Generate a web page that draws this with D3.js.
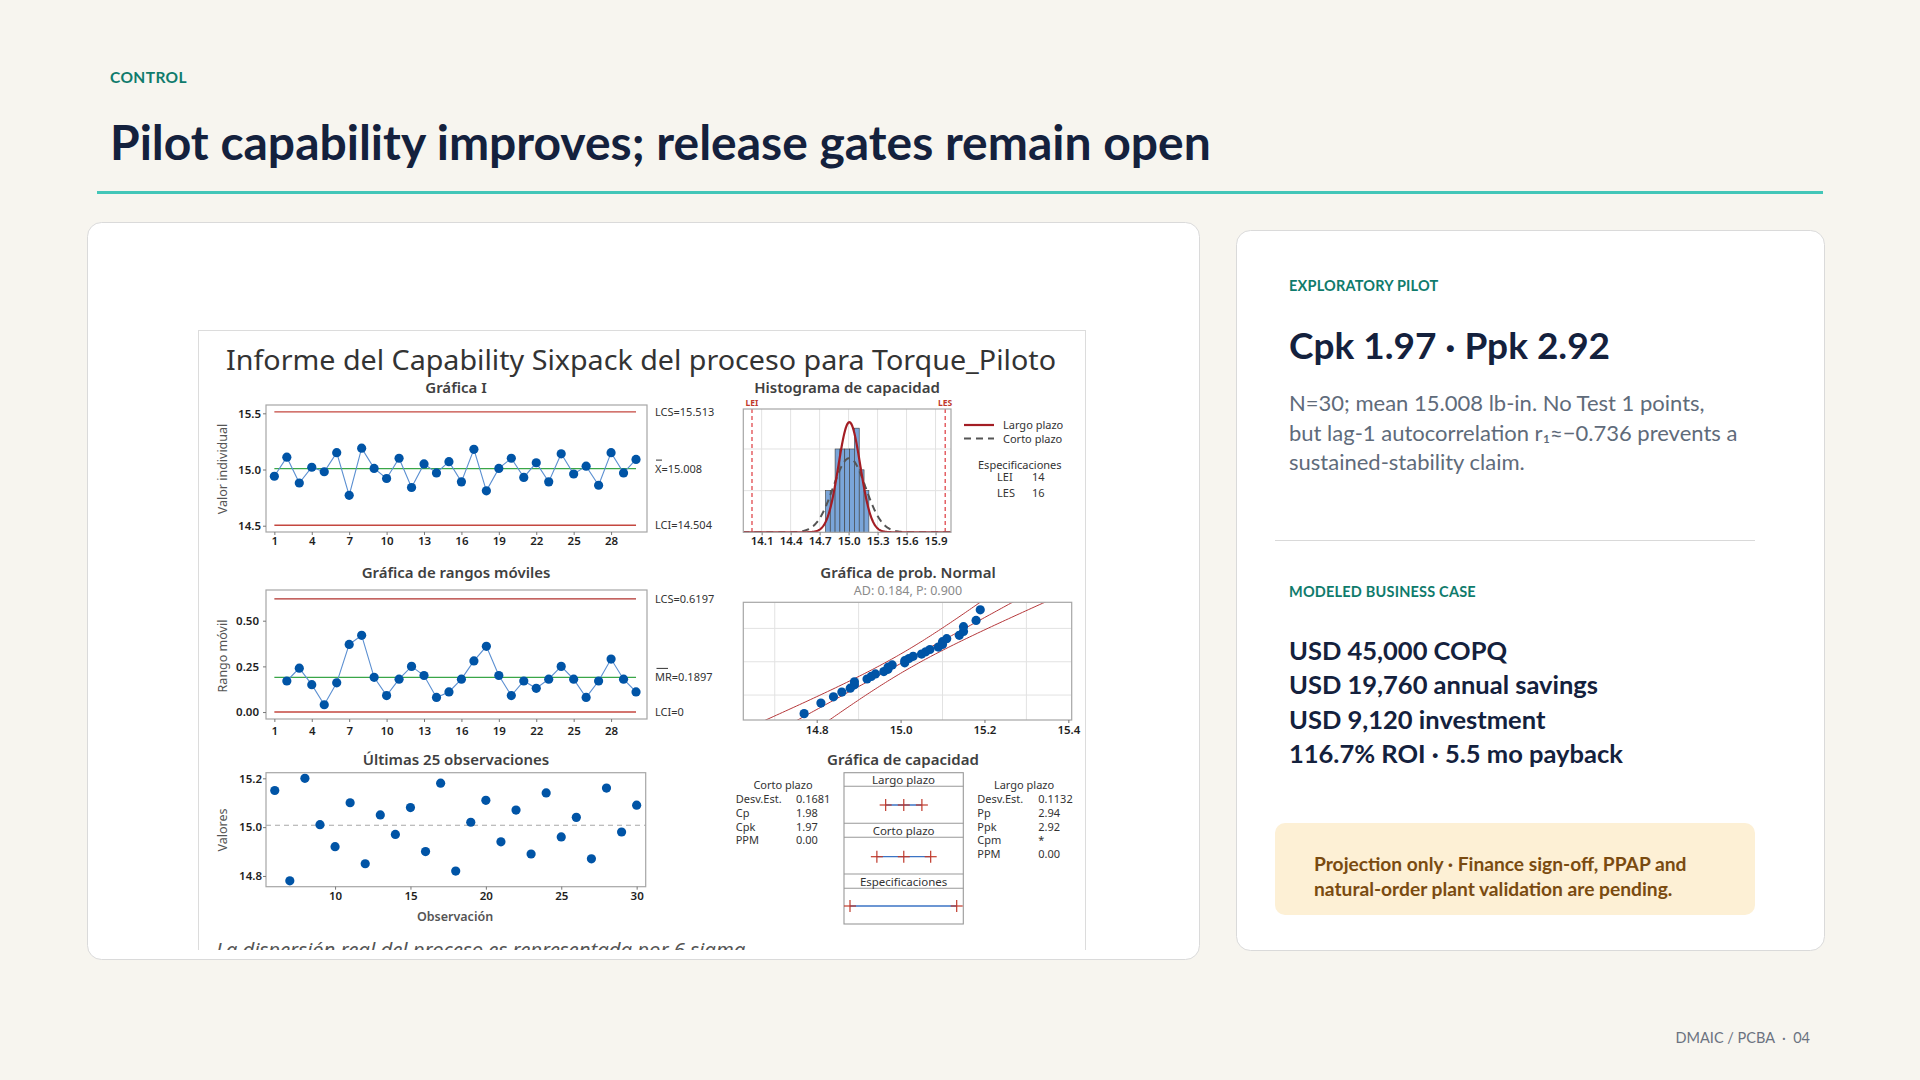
<!DOCTYPE html>
<html>
<head>
<meta charset="utf-8">
<title>Pilot capability</title>
<script src="https://cdn.jsdelivr.net/npm/d3@7"></script>
<style>
  html, body { margin: 0; padding: 0; background: #f7f5ef; }
  svg { display: block; }
</style>
</head>
<body>
<svg id="slide" width="1920" height="1080"></svg>
<script>
// ---- data ----
const obsNumbers = [1,2,3,4,5,6,7,8,9,10,11,12,13,14,15,16,17,18,19,20,21,22,23,24,25,26,27,28,29,30];
const torqueValues = [14.94, 15.11, 14.88, 15.02, 14.98, 15.15, 14.77, 15.19, 15.01, 14.92,
                      15.10, 14.84, 15.05, 14.97, 15.07, 14.89, 15.18, 14.81, 15.01, 15.10,
                      14.93, 15.06, 14.89, 15.14, 14.96, 15.03, 14.86, 15.15, 14.97, 15.09];
const movingRanges = [null, 0.17, 0.24, 0.15, 0.04, 0.16, 0.37, 0.42, 0.19, 0.09,
                      0.18, 0.25, 0.20, 0.08, 0.11, 0.18, 0.28, 0.36, 0.20, 0.09,
                      0.17, 0.13, 0.18, 0.25, 0.18, 0.08, 0.17, 0.29, 0.18, 0.11];
const lastObsNumbers = [6,7,8,9,10,11,12,13,14,15,16,17,18,19,20,21,22,23,24,25,26,27,28,29,30];
const lastObsValues = [15.15, 14.78, 15.20, 15.01, 14.92, 15.10, 14.85, 15.05, 14.97, 15.08,
                       14.90, 15.18, 14.82, 15.02, 15.11, 14.94, 15.07, 14.89, 15.14, 14.96,
                       15.04, 14.87, 15.16, 14.98, 15.09];
const histBinStarts = [14.76, 14.81, 14.86, 14.91, 14.96, 15.01, 15.06, 15.11, 15.16];
const histBinWidth = 0.05;
const histCounts = [2, 2, 4, 4, 4, 4, 5, 3, 2];

const iLimits = [15.513, 15.008, 14.504];      // LCS, X-bar, LCI
const mrLimits = [0.6197, 0.1897, 0];          // LCS, MR-bar, LCI
const specLimits = [14, 16];                   // LEI, LES
const processMean = 15.008;
const sdShort = 0.1681;
const sdLong = 0.1132;

const iTicksX = [1, 4, 7, 10, 13, 16, 19, 22, 25, 28];
const iTicksY = [14.5, 15.0, 15.5];
const mrTicksY = [0, 0.25, 0.5];
const histTicksX = [14.1, 14.4, 14.7, 15.0, 15.3, 15.6, 15.9];
const histGridY = [2, 4];
const probTicksX = [14.8, 15.0, 15.2, 15.4];
const probGridX = [14.7, 14.9, 15.1, 15.3];
const probGridZ = [-1.2816, 0, 1.2816];
const lastTicksX = [10, 15, 20, 25, 30];
const lastTicksY = [14.8, 15.0, 15.2];

const shortTermStats = [["Desv.Est.", "0.1681"], ["Cp", "1.98"], ["Cpk", "1.97"], ["PPM", "0.00"]];
const longTermStats = [["Desv.Est.", "0.1132"], ["Pp", "2.94"], ["Ppk", "2.92"], ["Cpm", "*"], ["PPM", "0.00"]];

const pilotNotes = ["N=30; mean 15.008 lb-in. No Test 1 points,",
                    "but lag-1 autocorrelation r\u2081\u2248\u22120.736 prevents a",
                    "sustained-stability claim."];
const businessLines = ["USD 45,000 COPQ", "USD 19,760 annual savings",
                       "USD 9,120 investment", "116.7% ROI \u00b7 5.5 mo payback"];
const calloutLines = ["Projection only \u00b7 Finance sign-off, PPAP and",
                      "natural-order plant validation are pending."];

// ---- colours ----
const TEAL = "#0f7b6c", NAVY = "#14213d";
const MT_BLUE = "#0054a6", MT_LINE = "#5b8fd1", MT_RED = "#c4473f", MT_GREEN = "#3aa648";
const MT_TEXT = "#333333", MT_FRAME = "#a6a6a6", MT_GRID = "#e2e2e2";
const CHART_FONT = "'Noto Sans', 'Open Sans', sans-serif";
const SLIDE_FONT = "Lato, 'Noto Sans', sans-serif";

const svg = d3.select("#slide");

// ---- slide frame ----
svg.append("text").attr("x", 110).attr("y", 83).text("CONTROL")
  .attr("font-family", SLIDE_FONT).attr("font-weight", 700).attr("font-size", 15.5)
  .attr("letter-spacing", 0.4).attr("fill", TEAL);
svg.append("text").attr("x", 110).attr("y", 160).text("Pilot capability improves; release gates remain open")
  .attr("font-family", SLIDE_FONT).attr("font-weight", 700).attr("font-size", 48).attr("fill", NAVY);
svg.append("line").attr("x1", 97).attr("x2", 1823).attr("y1", 192.5).attr("y2", 192.5)
  .attr("stroke", "#43c6b8").attr("stroke-width", 3);

svg.append("rect").attr("x", 87.5).attr("y", 222.5).attr("width", 1112).attr("height", 737).attr("rx", 14)
  .attr("fill", "#ffffff").attr("stroke", "#dadada");
svg.append("rect").attr("x", 1236.5).attr("y", 230.5).attr("width", 588).attr("height", 720).attr("rx", 14)
  .attr("fill", "#ffffff").attr("stroke", "#dadada");

svg.append("text").attr("x", 1810).attr("y", 1043).attr("text-anchor", "end").text("DMAIC / PCBA  \u00b7  04")
  .attr("font-family", SLIDE_FONT).attr("font-size", 14.5).attr("fill", "#6b7280").style("white-space", "pre");

// ---- right card ----
const side = svg.append("g").attr("font-family", SLIDE_FONT);
side.append("text").attr("x", 1289).attr("y", 291).text("EXPLORATORY PILOT")
  .attr("font-weight", 700).attr("font-size", 14.5).attr("letter-spacing", 0.2).attr("fill", TEAL);
side.append("text").attr("x", 1289).attr("y", 359).text("Cpk 1.97 \u00b7 Ppk 2.92")
  .attr("font-weight", 700).attr("font-size", 37).attr("fill", NAVY);
side.selectAll("text.note").data(pilotNotes).enter().append("text").attr("class", "note")
  .attr("x", 1289).attr("y", (d, i) => 411 + i * 29.5).text(d => d)
  .attr("font-size", 22).attr("fill", "#5f6b7a");
side.append("line").attr("x1", 1275).attr("x2", 1755).attr("y1", 540.5).attr("y2", 540.5)
  .attr("stroke", "#d9d9d9").attr("stroke-width", 1.2);
side.append("text").attr("x", 1289).attr("y", 597).text("MODELED BUSINESS CASE")
  .attr("font-weight", 700).attr("font-size", 14.5).attr("letter-spacing", 0.2).attr("fill", TEAL);
side.selectAll("text.biz").data(businessLines).enter().append("text").attr("class", "biz")
  .attr("x", 1289).attr("y", (d, i) => 660 + i * 34.3).text(d => d)
  .attr("font-weight", 700).attr("font-size", 25.5).attr("fill", NAVY);
side.append("rect").attr("x", 1275).attr("y", 823).attr("width", 480).attr("height", 92).attr("rx", 10)
  .attr("fill", "#fdf0d5");
side.selectAll("text.call").data(calloutLines).enter().append("text").attr("class", "call")
  .attr("x", 1314).attr("y", (d, i) => 871 + i * 25).text(d => d)
  .attr("font-weight", 700).attr("font-size", 19.2).attr("fill", "#7a4b10");

// ---- Minitab sixpack image ----
svg.append("defs").append("clipPath").attr("id", "imgClip")
  .append("rect").attr("x", 198).attr("y", 330).attr("width", 888).attr("height", 620);
const rep = svg.append("g").attr("clip-path", "url(#imgClip)").attr("font-family", CHART_FONT);
rep.append("rect").attr("x", 198.5).attr("y", 330.5).attr("width", 887).attr("height", 660)
  .attr("fill", "#ffffff").attr("stroke", "#dcdcdc");

rep.append("text").attr("x", 641).attr("y", 370).attr("text-anchor", "middle")
  .text("Informe del Capability Sixpack del proceso para Torque_Piloto")
  .attr("font-size", 27.5).attr("fill", "#333").attr("textLength", 830).attr("lengthAdjust", "spacingAndGlyphs");

function title(t, x, y, size) {
  rep.append("text").attr("x", x).attr("y", y).attr("text-anchor", "middle").text(t)
    .attr("font-size", size || 15).attr("font-weight", 600).attr("fill", "#404040");
}
function frame(x0, y0, x1, y1) {
  rep.append("rect").attr("x", x0).attr("y", y0).attr("width", x1 - x0).attr("height", y1 - y0)
    .attr("fill", "none").attr("stroke", MT_FRAME).attr("stroke-width", 1.2);
}
function styleAxis(g) {
  g.select(".domain").remove();
  g.selectAll(".tick line").attr("stroke", "#777");
  g.selectAll(".tick text").attr("font-family", CHART_FONT).attr("font-size", 11.5)
    .attr("font-weight", 600).attr("fill", "#1e1e1e");
}
function yTitle(t, x, y) {
  rep.append("text").attr("transform", `translate(${x},${y}) rotate(-90)`).attr("text-anchor", "middle")
    .attr("dy", "0.35em").text(t).attr("font-size", 12.5).attr("fill", "#555");
}
function clipRect(id, x0, y0, x1, y1) {
  rep.append("clipPath").attr("id", id).append("rect")
    .attr("x", x0).attr("y", y0).attr("width", x1 - x0).attr("height", y1 - y0);
}
function sideLabel(t, x, y) {
  return rep.append("text").attr("x", x).attr("y", y).text(t).attr("font-size", 11).attr("fill", MT_TEXT);
}

// I chart
const ix = d3.scaleLinear().domain([0.33, 30.88]).range([266, 647]);
const iy = d3.scaleLinear().domain([14.444, 15.574]).range([532, 405]);
title("Gr\u00e1fica I", 456, 393);
frame(266, 405, 647, 532);
rep.append("g").attr("transform", "translate(266,0)")
  .call(d3.axisLeft(iy).tickValues(iTicksY).tickFormat(d3.format(".1f")).tickSize(3).tickPadding(2)).call(styleAxis);
rep.append("g").attr("transform", "translate(0,532)")
  .call(d3.axisBottom(ix).tickValues(iTicksX).tickSize(3).tickPadding(2)).call(styleAxis);
yTitle("Valor individual", 223, 469);
iLimits.forEach((v, k) => {
  rep.append("line").attr("x1", ix(1)).attr("x2", ix(30)).attr("y1", iy(v)).attr("y2", iy(v))
    .attr("stroke", k === 1 ? MT_GREEN : MT_RED).attr("stroke-width", 1.4);
});
rep.append("path").datum(torqueValues)
  .attr("d", d3.line().x((d, i) => ix(obsNumbers[i])).y(d => iy(d)))
  .attr("fill", "none").attr("stroke", MT_LINE).attr("stroke-width", 1.1);
rep.selectAll("circle.ipt").data(torqueValues).enter().append("circle").attr("class", "ipt")
  .attr("cx", (d, i) => ix(obsNumbers[i])).attr("cy", d => iy(d)).attr("r", 4.6).attr("fill", MT_BLUE);
sideLabel("LCS=" + iLimits[0], 655, iy(iLimits[0]) + 4);
sideLabel("X=" + iLimits[1], 655, iy(iLimits[1]) + 4);
rep.append("line").attr("x1", 656).attr("x2", 662).attr("y1", iy(iLimits[1]) - 8.5).attr("y2", iy(iLimits[1]) - 8.5)
  .attr("stroke", MT_TEXT).attr("stroke-width", 1);
sideLabel("LCI=" + iLimits[2], 655, iy(iLimits[2]) + 4);

// MR chart
const my = d3.scaleLinear().domain([-0.038, 0.668]).range([719, 590]);
title("Gr\u00e1fica de rangos m\u00f3viles", 456, 578);
frame(266, 590, 647, 719);
rep.append("g").attr("transform", "translate(266,0)")
  .call(d3.axisLeft(my).tickValues(mrTicksY).tickFormat(d3.format(".2f")).tickSize(3).tickPadding(4)).call(styleAxis);
rep.append("g").attr("transform", "translate(0,719)")
  .call(d3.axisBottom(ix).tickValues(iTicksX).tickSize(3).tickPadding(5)).call(styleAxis);
yTitle("Rango m\u00f3vil", 223, 656);
mrLimits.forEach((v, k) => {
  rep.append("line").attr("x1", ix(1)).attr("x2", ix(30)).attr("y1", my(v)).attr("y2", my(v))
    .attr("stroke", k === 1 ? MT_GREEN : (k === 0 ? "#b0312d" : MT_RED)).attr("stroke-width", 1.4);
});
rep.append("path").datum(movingRanges)
  .attr("d", d3.line().defined(d => d !== null).x((d, i) => ix(obsNumbers[i])).y(d => my(d)))
  .attr("fill", "none").attr("stroke", MT_LINE).attr("stroke-width", 1.1);
rep.selectAll("circle.mpt").data(movingRanges.filter(d => d !== null)).enter().append("circle").attr("class", "mpt")
  .attr("cx", (d, i) => ix(obsNumbers[i + 1])).attr("cy", d => my(d)).attr("r", 4.6).attr("fill", MT_BLUE);
sideLabel("LCS=" + mrLimits[0], 655, my(mrLimits[0]) + 4);
sideLabel("MR=" + mrLimits[1], 655, my(mrLimits[1]) + 4);
rep.append("line").attr("x1", 656.5).attr("x2", 668).attr("y1", my(mrLimits[1]) - 9).attr("y2", my(mrLimits[1]) - 9)
  .attr("stroke", MT_TEXT).attr("stroke-width", 1);
sideLabel("LCI=" + mrLimits[2], 655, my(mrLimits[2]) + 4);

// Last 25 observations
const lx = d3.scaleLinear().domain([5.42, 30.6]).range([266, 645.7]);
const ly = d3.scaleLinear().domain([14.756, 15.223]).range([886.7, 772.7]);
title("\u00daltimas 25 observaciones", 456, 765);
frame(266, 772.7, 645.7, 886.7);
rep.append("g").attr("transform", "translate(266,0)")
  .call(d3.axisLeft(ly).tickValues(lastTicksY).tickFormat(d3.format(".1f")).tickSize(3).tickPadding(1)).call(styleAxis);
rep.append("g").attr("transform", "translate(0,886.7)")
  .call(d3.axisBottom(lx).tickValues(lastTicksX).tickSize(3).tickPadding(2)).call(styleAxis);
yTitle("Valores", 223, 830);
rep.append("text").attr("x", 455).attr("y", 921).attr("text-anchor", "middle").text("Observaci\u00f3n")
  .attr("font-size", 12.5).attr("font-weight", 600).attr("fill", "#555");
rep.append("line").attr("x1", 266).attr("x2", 645.7).attr("y1", ly(processMean)).attr("y2", ly(processMean))
  .attr("stroke", "#a8a8a8").attr("stroke-width", 1.1).attr("stroke-dasharray", "5,4");
rep.selectAll("circle.lpt").data(lastObsValues).enter().append("circle").attr("class", "lpt")
  .attr("cx", (d, i) => lx(lastObsNumbers[i])).attr("cy", d => ly(d)).attr("r", 4.6).attr("fill", MT_BLUE);

rep.append("text").attr("x", 216).attr("y", 957)
  .text("La dispersi\u00f3n real del proceso es representada por 6 sigma")
  .attr("font-size", 20.3).attr("font-style", "italic").attr("fill", "#555");

// Histogram
const hx = d3.scaleLinear().domain([13.91, 16.06]).range([743.3, 951]);
const hy = d3.scaleLinear().domain([0, 5.92]).range([532.3, 409]);
title("Histograma de capacidad", 847, 393);
clipRect("histClip", 743.3, 409, 951, 532.3);
const hg = rep.append("g").attr("clip-path", "url(#histClip)");
hg.selectAll("line.gx").data(histTicksX).enter().append("line")
  .attr("x1", d => hx(d)).attr("x2", d => hx(d)).attr("y1", 409).attr("y2", 532.3)
  .attr("stroke", MT_GRID);
hg.selectAll("line.gy").data(histGridY).enter().append("line")
  .attr("x1", 743.3).attr("x2", 951).attr("y1", d => hy(d)).attr("y2", d => hy(d))
  .attr("stroke", MT_GRID);
hg.selectAll("rect.bar").data(histCounts).enter().append("rect").attr("class", "bar")
  .attr("x", (d, i) => hx(histBinStarts[i])).attr("width", (d, i) => hx(histBinStarts[i] + histBinWidth) - hx(histBinStarts[i]))
  .attr("y", d => hy(d)).attr("height", d => hy(0) - hy(d))
  .attr("fill", "#7aa5d9").attr("stroke", "#3d3d3d").attr("stroke-width", 0.6);
specLimits.forEach(s => {
  hg.append("line").attr("x1", hx(s)).attr("x2", hx(s)).attr("y1", 409).attr("y2", 532.3)
    .attr("stroke", "#e0474c").attr("stroke-width", 1.3).attr("stroke-dasharray", "4,3");
});
const totalN = torqueValues.length;
function densityPath(sd) {
  const xs = d3.range(13.9, 16.07, 0.004);
  return d3.line().x(x => hx(x))
    .y(x => hy(totalN * histBinWidth * Math.exp(-0.5 * Math.pow((x - processMean) / sd, 2)) / (sd * Math.sqrt(2 * Math.PI))))(xs);
}
hg.append("path").attr("d", densityPath(sdShort)).attr("fill", "none")
  .attr("stroke", "#555").attr("stroke-width", 2).attr("stroke-dasharray", "7,5");
hg.append("path").attr("d", densityPath(sdLong)).attr("fill", "none")
  .attr("stroke", "#a31d24").attr("stroke-width", 2.2);
frame(743.3, 409, 951, 532.3);
rep.append("g").attr("transform", "translate(0,532.3)")
  .call(d3.axisBottom(hx).tickValues(histTicksX).tickFormat(d3.format(".1f")).tickSize(3).tickPadding(2)).call(styleAxis);
["LEI", "LES"].forEach((t, k) => {
  rep.append("text").attr("x", hx(specLimits[k])).attr("y", 406).attr("text-anchor", "middle").text(t)
    .attr("font-size", 8.5).attr("font-weight", 700).attr("fill", "#c0392b");
});
rep.append("line").attr("x1", 964).attr("x2", 994).attr("y1", 425).attr("y2", 425)
  .attr("stroke", "#a31d24").attr("stroke-width", 2.2);
rep.append("line").attr("x1", 964).attr("x2", 994).attr("y1", 438.5).attr("y2", 438.5)
  .attr("stroke", "#555").attr("stroke-width", 2).attr("stroke-dasharray", "7,5");
sideLabel("Largo plazo", 1003, 429);
sideLabel("Corto plazo", 1003, 442.5);
sideLabel("Especificaciones", 978, 469);
sideLabel("LEI", 997, 481);
sideLabel(String(specLimits[0]), 1032, 481);
sideLabel("LES", 997, 496.5);
sideLabel(String(specLimits[1]), 1032, 496.5);

// Normal probability plot
function normInv(p) {
  const a = [-39.69683028665376, 220.9460984245205, -275.9285104469687, 138.3577518672690, -30.66479806614716, 2.506628277459239];
  const b = [-54.47609879822406, 161.5858368580409, -155.6989798598866, 66.80131188771972, -13.28068155288572];
  const c = [-0.007784894002430293, -0.3223964580411365, -2.400758277161838, -2.549732539343734, 4.374664141464968, 2.938163982698783];
  const d = [0.007784695709041462, 0.3224671290700398, 2.445134137142996, 3.754408661907416];
  let q, r;
  if (p < 0.02425) {
    q = Math.sqrt(-2 * Math.log(p));
    return (((((c[0]*q+c[1])*q+c[2])*q+c[3])*q+c[4])*q+c[5]) / ((((d[0]*q+d[1])*q+d[2])*q+d[3])*q+1);
  }
  if (p > 1 - 0.02425) {
    q = Math.sqrt(-2 * Math.log(1 - p));
    return -(((((c[0]*q+c[1])*q+c[2])*q+c[3])*q+c[4])*q+c[5]) / ((((d[0]*q+d[1])*q+d[2])*q+d[3])*q+1);
  }
  q = p - 0.5; r = q * q;
  return (((((a[0]*r+a[1])*r+a[2])*r+a[3])*r+a[4])*r+a[5])*q / (((((b[0]*r+b[1])*r+b[2])*r+b[3])*r+b[4])*r+1);
}
const px = d3.scaleLinear().domain([14.625, 15.408]).range([743.3, 1071.7]);
const py = d3.scaleLinear().domain([-2.24, 2.285]).range([720, 602.3]);
title("Gr\u00e1fica de prob. Normal", 908, 578);
rep.append("text").attr("x", 908).attr("y", 595).attr("text-anchor", "middle").text("AD: 0.184, P: 0.900")
  .attr("font-size", 12.5).attr("fill", "#8a8a8a");
clipRect("probClip", 743.3, 602.3, 1071.7, 720);
const pg = rep.append("g").attr("clip-path", "url(#probClip)");
pg.selectAll("line.gx").data(probGridX).enter().append("line")
  .attr("x1", d => px(d)).attr("x2", d => px(d)).attr("y1", 602.3).attr("y2", 720).attr("stroke", MT_GRID);
pg.selectAll("line.gy").data(probGridZ).enter().append("line")
  .attr("x1", 743.3).attr("x2", 1071.7).attr("y1", d => py(d)).attr("y2", d => py(d)).attr("stroke", MT_GRID);
const zs = d3.range(-2.8, 2.81, 0.05);
const bandHalf = z => 1.96 * sdLong * Math.sqrt((1 + z * z / 2) / totalN);
[0, -1, 1].forEach(sgn => {
  pg.append("path").datum(zs)
    .attr("d", d3.line().x(z => px(processMean + z * sdLong + sgn * bandHalf(z))).y(z => py(z)))
    .attr("fill", "none").attr("stroke", "#b5383b").attr("stroke-width", 1);
});
const sortedTorque = torqueValues.slice().sort(d3.ascending);
pg.selectAll("circle.ppt").data(sortedTorque).enter().append("circle").attr("class", "ppt")
  .attr("cx", d => px(d)).attr("cy", (d, i) => py(normInv((i + 1 - 0.3) / (totalN + 0.4))))
  .attr("r", 4.6).attr("fill", MT_BLUE);
frame(743.3, 602.3, 1071.7, 720);
rep.append("g").attr("transform", "translate(0,720)")
  .call(d3.axisBottom(px).tickValues(probTicksX).tickFormat(d3.format(".1f")).tickSize(3).tickPadding(3)).call(styleAxis);

// Capability plot
const cx = d3.scaleLinear().domain(specLimits).range([850, 956.7]);
title("Gr\u00e1fica de capacidad", 903, 765);
const boxRows = [772.7, 786.3, 823.3, 837.3, 874, 888.3, 924];
rep.append("rect").attr("x", 844).attr("y", boxRows[0]).attr("width", 119.3).attr("height", boxRows[6] - boxRows[0])
  .attr("fill", "none").attr("stroke", "#999").attr("stroke-width", 1.1);
boxRows.slice(1, 6).forEach(y => {
  rep.append("line").attr("x1", 844).attr("x2", 963.3).attr("y1", y).attr("y2", y)
    .attr("stroke", "#999").attr("stroke-width", 1.1);
});
[["Largo plazo", 784.3], ["Corto plazo", 835], ["Especificaciones", 886]].forEach(h => {
  rep.append("text").attr("x", 903.6).attr("y", h[1]).attr("text-anchor", "middle").text(h[0])
    .attr("font-size", 11.5).attr("fill", MT_TEXT);
});
function intervalMarks(vals, y) {
  rep.append("line").attr("x1", cx(vals[0])).attr("x2", cx(vals[vals.length - 1])).attr("y1", y).attr("y2", y)
    .attr("stroke", "#3b73c4").attr("stroke-width", 1.3);
  vals.forEach(v => {
    rep.append("line").attr("x1", cx(v) - 6).attr("x2", cx(v) + 6).attr("y1", y).attr("y2", y)
      .attr("stroke", "#c0392b").attr("stroke-width", 1.2);
    rep.append("line").attr("x1", cx(v)).attr("x2", cx(v)).attr("y1", y - 6).attr("y2", y + 6)
      .attr("stroke", "#c0392b").attr("stroke-width", 1.2);
  });
}
intervalMarks([processMean - 3 * sdLong, processMean, processMean + 3 * sdLong], 805);
intervalMarks([processMean - 3 * sdShort, processMean, processMean + 3 * sdShort], 856.7);
intervalMarks(specLimits, 906);

rep.append("text").attr("x", 783).attr("y", 789).attr("text-anchor", "middle").text("Corto plazo")
  .attr("font-size", 11).attr("fill", MT_TEXT);
shortTermStats.forEach((r, i) => {
  sideLabel(r[0], 735.7, 803 + i * 13.8);
  sideLabel(r[1], 796, 803 + i * 13.8);
});
rep.append("text").attr("x", 1024).attr("y", 789).attr("text-anchor", "middle").text("Largo plazo")
  .attr("font-size", 11).attr("fill", MT_TEXT);
longTermStats.forEach((r, i) => {
  sideLabel(r[0], 977.3, 803 + i * 13.8);
  sideLabel(r[1], 1038.3, 803 + i * 13.8);
});
</script>
</body>
</html>
